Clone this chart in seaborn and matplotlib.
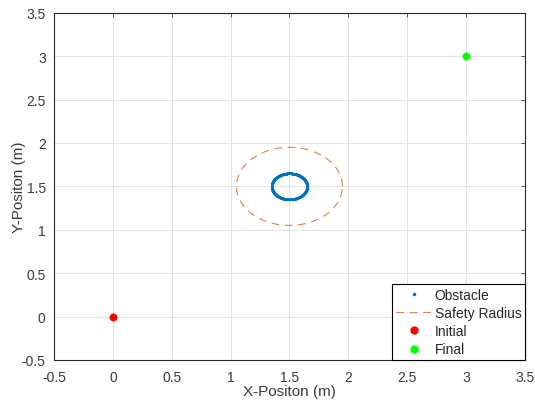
import numpy as np
import pandas as pd
import matplotlib
matplotlib.use('Agg')
import matplotlib.pyplot as plt
import seaborn as sns
from matplotlib.lines import Line2D

# Scene data
obstacle_center = (1.5, 1.5)
obstacle_radius = 0.15
safety_radius = 0.45
initial_pos = (0.0, 0.0)
final_pos = (3.0, 3.0)

x_ticks = [-0.5, 0, 0.5, 1, 1.5, 2, 2.5, 3, 3.5]
y_ticks = [-0.5, 0, 0.5, 1, 1.5, 2, 2.5, 3, 3.5]

blue = '#0072BD'
orange = '#D95319'

sns.set_style('whitegrid')
plt.rcParams['font.family'] = ['Liberation Sans', 'DejaVu Sans']

theta = np.linspace(0, 2 * np.pi, 400)
obs = pd.DataFrame({'x': obstacle_center[0] + obstacle_radius * np.cos(theta),
                    'y': obstacle_center[1] + obstacle_radius * np.sin(theta)})
safe = pd.DataFrame({'x': obstacle_center[0] + safety_radius * np.cos(theta),
                     'y': obstacle_center[1] + safety_radius * np.sin(theta)})

fig, ax = plt.subplots(figsize=(5.35, 4.06), dpi=100)
fig.subplots_adjust(left=0.101, right=0.981, top=0.966, bottom=0.111)

sns.scatterplot(data=obs, x='x', y='y', ax=ax, color=blue, s=3, linewidth=0)
sns.lineplot(data=safe, x='x', y='y', ax=ax, sort=False, color=orange,
             linewidth=0.8, alpha=0.75, estimator=None)
ax.lines[-1].set_linestyle((0, (7, 5)))
sns.scatterplot(x=[initial_pos[0]], y=[initial_pos[1]], ax=ax, color='red', s=28,
                edgecolor='red')
sns.scatterplot(x=[final_pos[0]], y=[final_pos[1]], ax=ax, color='#00FF00', s=28,
                edgecolor='#00FF00')

ax.set_xlim(-0.5, 3.5)
ax.set_ylim(-0.5, 3.5)
ax.set_xticks(x_ticks)
ax.set_yticks(y_ticks)
ax.set_xticklabels([f'{t:g}' for t in x_ticks])
ax.set_yticklabels([f'{t:g}' for t in y_ticks])
ax.set_xlabel('X-Positon (m)', fontsize=11, color='#3a3a3a', labelpad=0)
ax.set_ylabel('Y-Positon (m)', fontsize=11, color='#3a3a3a', labelpad=-3)
ax.tick_params(axis='both', labelsize=10, colors='#3a3a3a', direction='in',
               length=3, width=0.6, top=True, right=True)
ax.tick_params(axis='x', pad=7)
ax.tick_params(axis='y', pad=6)
ax.grid(True, color='#E3E3E3', linewidth=0.7)
for side in ax.spines.values():
    side.set_visible(True)
    side.set_color('#262626')
    side.set_linewidth(0.8)

handles = [
    Line2D([], [], linestyle='none', marker='.', color=blue, markersize=3),
    Line2D([], [], linestyle=(0, (7, 5)), color=orange, linewidth=0.8, alpha=0.75),
    Line2D([], [], linestyle='none', marker='o', color='red', markersize=5),
    Line2D([], [], linestyle='none', marker='o', color='#00FF00', markersize=5),
]
leg = ax.legend(handles, ['Obstacle', 'Safety Radius', 'Initial', 'Final'],
                loc='lower right', fontsize=10, fancybox=False, framealpha=1,
                edgecolor='black', borderaxespad=0, handlelength=2.6,
                labelspacing=0.3, borderpad=0.25, handletextpad=0.2)
leg.get_frame().set_linewidth(0.8)
for t in leg.get_texts():
    t.set_color('#262626')

fig.savefig('out.png', dpi=100)
